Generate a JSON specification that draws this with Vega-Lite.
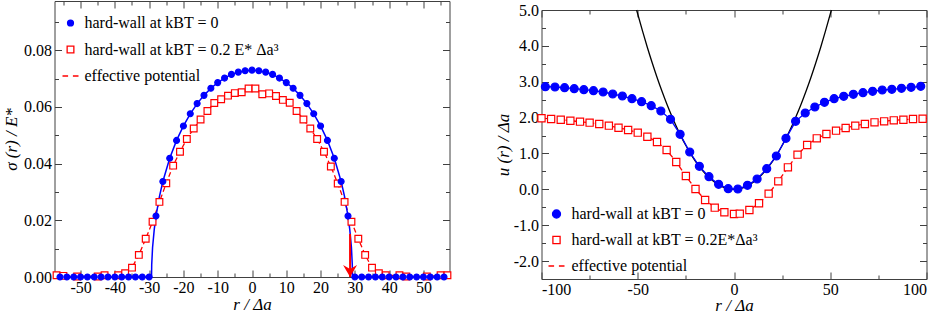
{
  "$schema": "https://vega.github.io/schema/vega-lite/v6.json",
  "background": "white",
  "padding": {"left": 1.5, "top": 0, "right": 0, "bottom": 0},
  "spacing": 39,
  "config": {
    "view": {"stroke": "#404040", "strokeWidth": 1},
    "font": "Liberation Serif",
    "axis": {
      "labelFont": "Liberation Serif", "labelFontSize": 16, "labelColor": "black",
      "titleFont": "Liberation Serif", "titleFontSize": 17, "titleFontWeight": "normal", "titleFontStyle": "italic", "titleColor": "black",
      "domain": false, "grid": false, "tickColor": "#404040", "tickWidth": 1
    },
    "legend": {"labelFont": "Liberation Serif", "labelFontSize": 16, "labelColor": "black"}
  },
  "datasets": {
    "hzL": [
      {"r": -57.6, "v": 0}, {"r": -29.3, "v": 0}, {"r": -29.25, "v": 0.0043}, {"r": -29, "v": 0.0104}, {"r": -28.5, "v": 0.0169}, {"r": -28, "v": 0.0215}, {"r": -27, "v": 0.0284}, {"r": -26, "v": 0.0337}, {"r": -24, "v": 0.0419}, {"r": -22, "v": 0.0482}, {"r": -20, "v": 0.0533}, {"r": -18, "v": 0.0576}, {"r": -16, "v": 0.0612}, {"r": -14, "v": 0.0641}, {"r": -12, "v": 0.0666}, {"r": -10, "v": 0.0686}, {"r": -8, "v": 0.0702}, {"r": -6, "v": 0.0715}, {"r": -4, "v": 0.0723}, {"r": -2, "v": 0.0728}, {"r": 0, "v": 0.073},
      {"r": 2, "v": 0.0728}, {"r": 4, "v": 0.0723}, {"r": 6, "v": 0.0715}, {"r": 8, "v": 0.0702}, {"r": 10, "v": 0.0686}, {"r": 12, "v": 0.0666}, {"r": 14, "v": 0.0641}, {"r": 16, "v": 0.0612}, {"r": 18, "v": 0.0576}, {"r": 20, "v": 0.0533}, {"r": 22, "v": 0.0482}, {"r": 24, "v": 0.0419}, {"r": 26, "v": 0.0337}, {"r": 27, "v": 0.0284}, {"r": 28, "v": 0.0215}, {"r": 28.5, "v": 0.0169}, {"r": 29, "v": 0.0104}, {"r": 29.25, "v": 0.0043}, {"r": 29.3, "v": 0}, {"r": 57.6, "v": 0}
    ],
    "ptL": [
      {"r": -57, "v": 0.0006, "s": "hard-wall at kBT = 0.2 E* Δa³"}, {"r": -55, "v": 0.0004, "s": "hard-wall at kBT = 0.2 E* Δa³"}, {"r": -51, "v": 0.0002, "s": "hard-wall at kBT = 0.2 E* Δa³"}, {"r": -45, "v": 0.0002, "s": "hard-wall at kBT = 0.2 E* Δa³"}, {"r": -43, "v": 0.0006, "s": "hard-wall at kBT = 0.2 E* Δa³"}, {"r": -39, "v": 0.0006, "s": "hard-wall at kBT = 0.2 E* Δa³"}, {"r": -37, "v": 0.0013, "s": "hard-wall at kBT = 0.2 E* Δa³"}, {"r": -35, "v": 0.0033, "s": "hard-wall at kBT = 0.2 E* Δa³"}, {"r": -33, "v": 0.0078, "s": "hard-wall at kBT = 0.2 E* Δa³"}, {"r": -31, "v": 0.0135, "s": "hard-wall at kBT = 0.2 E* Δa³"}, {"r": -29, "v": 0.0195, "s": "hard-wall at kBT = 0.2 E* Δa³"}, {"r": -27, "v": 0.0265, "s": "hard-wall at kBT = 0.2 E* Δa³"}, {"r": -25, "v": 0.0331, "s": "hard-wall at kBT = 0.2 E* Δa³"}, {"r": -23, "v": 0.0393, "s": "hard-wall at kBT = 0.2 E* Δa³"}, {"r": -21, "v": 0.0442, "s": "hard-wall at kBT = 0.2 E* Δa³"}, {"r": -19, "v": 0.0487, "s": "hard-wall at kBT = 0.2 E* Δa³"}, {"r": -17, "v": 0.0524, "s": "hard-wall at kBT = 0.2 E* Δa³"}, {"r": -15, "v": 0.0556, "s": "hard-wall at kBT = 0.2 E* Δa³"}, {"r": -13, "v": 0.0586, "s": "hard-wall at kBT = 0.2 E* Δa³"}, {"r": -11, "v": 0.0614, "s": "hard-wall at kBT = 0.2 E* Δa³"}, {"r": -9, "v": 0.0627, "s": "hard-wall at kBT = 0.2 E* Δa³"}, {"r": -7, "v": 0.064, "s": "hard-wall at kBT = 0.2 E* Δa³"}, {"r": -5, "v": 0.0649, "s": "hard-wall at kBT = 0.2 E* Δa³"}, {"r": -3, "v": 0.0652, "s": "hard-wall at kBT = 0.2 E* Δa³"}, {"r": -1, "v": 0.0665, "s": "hard-wall at kBT = 0.2 E* Δa³"}, {"r": 1, "v": 0.0665, "s": "hard-wall at kBT = 0.2 E* Δa³"}, {"r": 3, "v": 0.0645, "s": "hard-wall at kBT = 0.2 E* Δa³"}, {"r": 5, "v": 0.0648, "s": "hard-wall at kBT = 0.2 E* Δa³"}, {"r": 7, "v": 0.0639, "s": "hard-wall at kBT = 0.2 E* Δa³"}, {"r": 9, "v": 0.0625, "s": "hard-wall at kBT = 0.2 E* Δa³"}, {"r": 11, "v": 0.0615, "s": "hard-wall at kBT = 0.2 E* Δa³"}, {"r": 13, "v": 0.0586, "s": "hard-wall at kBT = 0.2 E* Δa³"}, {"r": 15, "v": 0.0556, "s": "hard-wall at kBT = 0.2 E* Δa³"}, {"r": 17, "v": 0.0524, "s": "hard-wall at kBT = 0.2 E* Δa³"}, {"r": 19, "v": 0.0487, "s": "hard-wall at kBT = 0.2 E* Δa³"}, {"r": 21, "v": 0.0442, "s": "hard-wall at kBT = 0.2 E* Δa³"}, {"r": 23, "v": 0.039, "s": "hard-wall at kBT = 0.2 E* Δa³"}, {"r": 25, "v": 0.033, "s": "hard-wall at kBT = 0.2 E* Δa³"}, {"r": 27, "v": 0.0265, "s": "hard-wall at kBT = 0.2 E* Δa³"}, {"r": 29, "v": 0.0195, "s": "hard-wall at kBT = 0.2 E* Δa³"}, {"r": 31, "v": 0.0135, "s": "hard-wall at kBT = 0.2 E* Δa³"}, {"r": 33, "v": 0.0078, "s": "hard-wall at kBT = 0.2 E* Δa³"}, {"r": 35, "v": 0.0033, "s": "hard-wall at kBT = 0.2 E* Δa³"}, {"r": 37, "v": 0.0013, "s": "hard-wall at kBT = 0.2 E* Δa³"}, {"r": 39, "v": 0.0006, "s": "hard-wall at kBT = 0.2 E* Δa³"}, {"r": 43, "v": 0.0006, "s": "hard-wall at kBT = 0.2 E* Δa³"}, {"r": 45, "v": 0.0002, "s": "hard-wall at kBT = 0.2 E* Δa³"}, {"r": 51, "v": 0.0002, "s": "hard-wall at kBT = 0.2 E* Δa³"}, {"r": 55, "v": 0.0006, "s": "hard-wall at kBT = 0.2 E* Δa³"}, {"r": 57, "v": 0.0006, "s": "hard-wall at kBT = 0.2 E* Δa³"},
      {"r": -56, "v": 0, "s": "hard-wall at kBT = 0"}, {"r": -54, "v": 0, "s": "hard-wall at kBT = 0"}, {"r": -52, "v": 0, "s": "hard-wall at kBT = 0"}, {"r": -50, "v": 0, "s": "hard-wall at kBT = 0"}, {"r": -48, "v": 0, "s": "hard-wall at kBT = 0"}, {"r": -46, "v": 0, "s": "hard-wall at kBT = 0"}, {"r": -44, "v": 0, "s": "hard-wall at kBT = 0"}, {"r": -42, "v": 0, "s": "hard-wall at kBT = 0"}, {"r": -40, "v": 0, "s": "hard-wall at kBT = 0"}, {"r": -38, "v": 0, "s": "hard-wall at kBT = 0"}, {"r": -36, "v": 0, "s": "hard-wall at kBT = 0"}, {"r": -34, "v": 0, "s": "hard-wall at kBT = 0"}, {"r": -32, "v": 0, "s": "hard-wall at kBT = 0"}, {"r": -30, "v": 0, "s": "hard-wall at kBT = 0"}, {"r": -28, "v": 0.0215, "s": "hard-wall at kBT = 0"}, {"r": -26, "v": 0.0337, "s": "hard-wall at kBT = 0"}, {"r": -24, "v": 0.0419, "s": "hard-wall at kBT = 0"}, {"r": -22, "v": 0.0482, "s": "hard-wall at kBT = 0"}, {"r": -20, "v": 0.0533, "s": "hard-wall at kBT = 0"}, {"r": -18, "v": 0.0576, "s": "hard-wall at kBT = 0"}, {"r": -16, "v": 0.0612, "s": "hard-wall at kBT = 0"}, {"r": -14, "v": 0.0641, "s": "hard-wall at kBT = 0"}, {"r": -12, "v": 0.0666, "s": "hard-wall at kBT = 0"}, {"r": -10, "v": 0.0686, "s": "hard-wall at kBT = 0"}, {"r": -8, "v": 0.0702, "s": "hard-wall at kBT = 0"}, {"r": -6, "v": 0.0715, "s": "hard-wall at kBT = 0"}, {"r": -4, "v": 0.0723, "s": "hard-wall at kBT = 0"}, {"r": -2, "v": 0.0728, "s": "hard-wall at kBT = 0"}, {"r": 0, "v": 0.073, "s": "hard-wall at kBT = 0"}, {"r": 2, "v": 0.0728, "s": "hard-wall at kBT = 0"}, {"r": 4, "v": 0.0723, "s": "hard-wall at kBT = 0"}, {"r": 6, "v": 0.0715, "s": "hard-wall at kBT = 0"}, {"r": 8, "v": 0.0702, "s": "hard-wall at kBT = 0"}, {"r": 10, "v": 0.0686, "s": "hard-wall at kBT = 0"}, {"r": 12, "v": 0.0666, "s": "hard-wall at kBT = 0"}, {"r": 14, "v": 0.0641, "s": "hard-wall at kBT = 0"}, {"r": 16, "v": 0.0612, "s": "hard-wall at kBT = 0"}, {"r": 18, "v": 0.0576, "s": "hard-wall at kBT = 0"}, {"r": 20, "v": 0.0533, "s": "hard-wall at kBT = 0"}, {"r": 22, "v": 0.0482, "s": "hard-wall at kBT = 0"}, {"r": 24, "v": 0.0419, "s": "hard-wall at kBT = 0"}, {"r": 26, "v": 0.0337, "s": "hard-wall at kBT = 0"}, {"r": 28, "v": 0.0215, "s": "hard-wall at kBT = 0"}, {"r": 30, "v": 0, "s": "hard-wall at kBT = 0"}, {"r": 32, "v": 0, "s": "hard-wall at kBT = 0"}, {"r": 34, "v": 0, "s": "hard-wall at kBT = 0"}, {"r": 36, "v": 0, "s": "hard-wall at kBT = 0"}, {"r": 38, "v": 0, "s": "hard-wall at kBT = 0"}, {"r": 40, "v": 0, "s": "hard-wall at kBT = 0"}, {"r": 42, "v": 0, "s": "hard-wall at kBT = 0"}, {"r": 44, "v": 0, "s": "hard-wall at kBT = 0"}, {"r": 46, "v": 0, "s": "hard-wall at kBT = 0"}, {"r": 48, "v": 0, "s": "hard-wall at kBT = 0"}, {"r": 50, "v": 0, "s": "hard-wall at kBT = 0"}, {"r": 52, "v": 0, "s": "hard-wall at kBT = 0"}, {"r": 54, "v": 0, "s": "hard-wall at kBT = 0"}, {"r": 56, "v": 0, "s": "hard-wall at kBT = 0"}
    ],
    "arrowL": [{"r": 28.6, "top": 0.0152, "v": 0}],
    "parR": [
      {"r": -50.6, "v": 5.0}, {"r": -47.5, "v": 4.41}, {"r": -45, "v": 3.955}, {"r": -42.5, "v": 3.53}, {"r": -40, "v": 3.125}, {"r": -37.5, "v": 2.746}, {"r": -35, "v": 2.392}, {"r": -32.5, "v": 2.063}, {"r": -30, "v": 1.758}, {"r": -27.5, "v": 1.477}, {"r": -25, "v": 1.221}, {"r": -22.5, "v": 0.989}, {"r": -20, "v": 0.781}, {"r": -17.5, "v": 0.598}, {"r": -15, "v": 0.439}, {"r": -12.5, "v": 0.305}, {"r": -10, "v": 0.195}, {"r": -7.5, "v": 0.11}, {"r": -5, "v": 0.049}, {"r": -2.5, "v": 0.012}, {"r": 0, "v": 0},
      {"r": 2.5, "v": 0.012}, {"r": 5, "v": 0.049}, {"r": 7.5, "v": 0.11}, {"r": 10, "v": 0.195}, {"r": 12.5, "v": 0.305}, {"r": 15, "v": 0.439}, {"r": 17.5, "v": 0.598}, {"r": 20, "v": 0.781}, {"r": 22.5, "v": 0.989}, {"r": 25, "v": 1.221}, {"r": 27.5, "v": 1.477}, {"r": 30, "v": 1.758}, {"r": 32.5, "v": 2.063}, {"r": 35, "v": 2.392}, {"r": 37.5, "v": 2.746}, {"r": 40, "v": 3.125}, {"r": 42.5, "v": 3.53}, {"r": 45, "v": 3.955}, {"r": 47.5, "v": 4.41}, {"r": 50.6, "v": 5.0}
    ],
    "ptR": [
      {"r": -100, "v": 1.98, "s": "hard-wall at kBT = 0.2E*Δa³"}, {"r": -95, "v": 1.961, "s": "hard-wall at kBT = 0.2E*Δa³"}, {"r": -90, "v": 1.942, "s": "hard-wall at kBT = 0.2E*Δa³"}, {"r": -85, "v": 1.914, "s": "hard-wall at kBT = 0.2E*Δa³"}, {"r": -80, "v": 1.887, "s": "hard-wall at kBT = 0.2E*Δa³"}, {"r": -75, "v": 1.859, "s": "hard-wall at kBT = 0.2E*Δa³"}, {"r": -70, "v": 1.822, "s": "hard-wall at kBT = 0.2E*Δa³"}, {"r": -65, "v": 1.775, "s": "hard-wall at kBT = 0.2E*Δa³"}, {"r": -60, "v": 1.719, "s": "hard-wall at kBT = 0.2E*Δa³"}, {"r": -55, "v": 1.654, "s": "hard-wall at kBT = 0.2E*Δa³"}, {"r": -50, "v": 1.58, "s": "hard-wall at kBT = 0.2E*Δa³"}, {"r": -45, "v": 1.468, "s": "hard-wall at kBT = 0.2E*Δa³"}, {"r": -40, "v": 1.32, "s": "hard-wall at kBT = 0.2E*Δa³"}, {"r": -35, "v": 1.097, "s": "hard-wall at kBT = 0.2E*Δa³"}, {"r": -30, "v": 0.762, "s": "hard-wall at kBT = 0.2E*Δa³"}, {"r": -25, "v": 0.372, "s": "hard-wall at kBT = 0.2E*Δa³"}, {"r": -20, "v": 0.009, "s": "hard-wall at kBT = 0.2E*Δa³"}, {"r": -15, "v": -0.297, "s": "hard-wall at kBT = 0.2E*Δa³"}, {"r": -10, "v": -0.511, "s": "hard-wall at kBT = 0.2E*Δa³"}, {"r": -5, "v": -0.641, "s": "hard-wall at kBT = 0.2E*Δa³"}, {"r": 0, "v": -0.688, "s": "hard-wall at kBT = 0.2E*Δa³"}, {"r": 3, "v": -0.678, "s": "hard-wall at kBT = 0.2E*Δa³"}, {"r": 8, "v": -0.576, "s": "hard-wall at kBT = 0.2E*Δa³"}, {"r": 13, "v": -0.39, "s": "hard-wall at kBT = 0.2E*Δa³"}, {"r": 18, "v": -0.121, "s": "hard-wall at kBT = 0.2E*Δa³"}, {"r": 23, "v": 0.223, "s": "hard-wall at kBT = 0.2E*Δa³"}, {"r": 28, "v": 0.613, "s": "hard-wall at kBT = 0.2E*Δa³"}, {"r": 33, "v": 0.967, "s": "hard-wall at kBT = 0.2E*Δa³"}, {"r": 38, "v": 1.236, "s": "hard-wall at kBT = 0.2E*Δa³"}, {"r": 43, "v": 1.422, "s": "hard-wall at kBT = 0.2E*Δa³"}, {"r": 48, "v": 1.543, "s": "hard-wall at kBT = 0.2E*Δa³"}, {"r": 53, "v": 1.636, "s": "hard-wall at kBT = 0.2E*Δa³"}, {"r": 58, "v": 1.71, "s": "hard-wall at kBT = 0.2E*Δa³"}, {"r": 63, "v": 1.775, "s": "hard-wall at kBT = 0.2E*Δa³"}, {"r": 68, "v": 1.822, "s": "hard-wall at kBT = 0.2E*Δa³"}, {"r": 73, "v": 1.868, "s": "hard-wall at kBT = 0.2E*Δa³"}, {"r": 78, "v": 1.896, "s": "hard-wall at kBT = 0.2E*Δa³"}, {"r": 83, "v": 1.924, "s": "hard-wall at kBT = 0.2E*Δa³"}, {"r": 88, "v": 1.942, "s": "hard-wall at kBT = 0.2E*Δa³"}, {"r": 93, "v": 1.961, "s": "hard-wall at kBT = 0.2E*Δa³"}, {"r": 98, "v": 1.97, "s": "hard-wall at kBT = 0.2E*Δa³"},
      {"r": -98, "v": 2.862, "s": "hard-wall at kBT = 0"}, {"r": -93, "v": 2.853, "s": "hard-wall at kBT = 0"}, {"r": -88, "v": 2.835, "s": "hard-wall at kBT = 0"}, {"r": -83, "v": 2.807, "s": "hard-wall at kBT = 0"}, {"r": -78, "v": 2.779, "s": "hard-wall at kBT = 0"}, {"r": -73, "v": 2.751, "s": "hard-wall at kBT = 0"}, {"r": -68, "v": 2.714, "s": "hard-wall at kBT = 0"}, {"r": -63, "v": 2.658, "s": "hard-wall at kBT = 0"}, {"r": -58, "v": 2.602, "s": "hard-wall at kBT = 0"}, {"r": -53, "v": 2.528, "s": "hard-wall at kBT = 0"}, {"r": -48, "v": 2.444, "s": "hard-wall at kBT = 0"}, {"r": -43, "v": 2.333, "s": "hard-wall at kBT = 0"}, {"r": -38, "v": 2.184, "s": "hard-wall at kBT = 0"}, {"r": -33, "v": 1.952, "s": "hard-wall at kBT = 0"}, {"r": -28, "v": 1.533, "s": "hard-wall at kBT = 0"}, {"r": -23, "v": 1.041, "s": "hard-wall at kBT = 0"}, {"r": -18, "v": 0.641, "s": "hard-wall at kBT = 0"}, {"r": -13, "v": 0.353, "s": "hard-wall at kBT = 0"}, {"r": -8, "v": 0.139, "s": "hard-wall at kBT = 0"}, {"r": -3, "v": 0.019, "s": "hard-wall at kBT = 0"}, {"r": 2, "v": 0.009, "s": "hard-wall at kBT = 0"}, {"r": 7, "v": 0.112, "s": "hard-wall at kBT = 0"}, {"r": 12, "v": 0.288, "s": "hard-wall at kBT = 0"}, {"r": 17, "v": 0.576, "s": "hard-wall at kBT = 0"}, {"r": 22, "v": 0.929, "s": "hard-wall at kBT = 0"}, {"r": 27, "v": 1.422, "s": "hard-wall at kBT = 0"}, {"r": 32, "v": 1.896, "s": "hard-wall at kBT = 0"}, {"r": 37, "v": 2.128, "s": "hard-wall at kBT = 0"}, {"r": 42, "v": 2.296, "s": "hard-wall at kBT = 0"}, {"r": 47, "v": 2.426, "s": "hard-wall at kBT = 0"}, {"r": 52, "v": 2.528, "s": "hard-wall at kBT = 0"}, {"r": 57, "v": 2.593, "s": "hard-wall at kBT = 0"}, {"r": 62, "v": 2.649, "s": "hard-wall at kBT = 0"}, {"r": 67, "v": 2.695, "s": "hard-wall at kBT = 0"}, {"r": 72, "v": 2.732, "s": "hard-wall at kBT = 0"}, {"r": 77, "v": 2.77, "s": "hard-wall at kBT = 0"}, {"r": 82, "v": 2.788, "s": "hard-wall at kBT = 0"}, {"r": 87, "v": 2.816, "s": "hard-wall at kBT = 0"}, {"r": 92, "v": 2.844, "s": "hard-wall at kBT = 0"}, {"r": 97, "v": 2.872, "s": "hard-wall at kBT = 0"}
    ]
  },
  "resolve": {"scale": {"x": "independent", "y": "independent", "shape": "independent", "stroke": "independent", "fill": "independent"}, "legend": {"shape": "independent", "stroke": "independent", "fill": "independent"}},
  "hconcat": [
    {
      "width": 395, "height": 276,
      "resolve": {"axis": {"x": "independent", "y": "independent"}},
      "layer": [
        {
          "data": {"name": "ptL"},
          "transform": [{"filter": "datum.s === 'hard-wall at kBT = 0.2 E* Δa³'"}],
          "mark": {"type": "line", "color": "#ff0000", "strokeDash": [5, 3], "strokeWidth": 1.3},
          "encoding": {
            "x": {"field": "r", "type": "quantitative", "scale": {"domain": [-57.6, 57.6], "nice": false, "zero": false},
                  "axis": {"orient": "bottom", "values": [-50, -40, -30, -20, -10, 0, 10, 20, 30, 40, 50], "tickSize": -7, "labelPadding": 9, "title": "r / Δa", "titleY": 27.5, "titleBaseline": "middle", "labelExpr": "replace(datum.label, '\u2212', '-')"}},
            "y": {"field": "v", "type": "quantitative", "scale": {"domain": [0, 0.0974], "nice": false, "zero": false},
                  "axis": {"orient": "left", "values": [0, 0.02, 0.04, 0.06, 0.08], "format": ".2f", "tickSize": -7, "labelPadding": 10, "title": "σ (r) / E*", "titleX": -43, "titleY": 138, "titleBaseline": "middle"}}
          }
        },
        {
          "data": {"name": "hzL"},
          "mark": {"type": "line", "color": "#0000ff", "strokeWidth": 1.5},
          "encoding": {
            "x": {"field": "r", "type": "quantitative", "axis": {"orient": "bottom", "values": [-55, -45, -35, -25, -15, -5, 5, 15, 25, 35, 45, 55], "tickSize": -4, "labels": false, "title": null}},
            "y": {"field": "v", "type": "quantitative", "axis": {"orient": "left", "values": [0.01, 0.03, 0.05, 0.07, 0.09], "tickSize": -4, "labels": false, "title": null}}
          }
        },
        {
          "data": {"name": "ptL"},
          "mark": {"type": "point", "filled": false, "strokeWidth": 1.2, "opacity": 1, "size": 256},
          "encoding": {
            "x": {"field": "r", "type": "quantitative", "axis": {"orient": "top", "values": [-50, -40, -30, -20, -10, 0, 10, 20, 30, 40, 50], "tickSize": -7, "labels": false, "title": null}},
            "y": {"field": "v", "type": "quantitative", "axis": {"orient": "right", "values": [0, 0.02, 0.04, 0.06, 0.08], "tickSize": -7, "labels": false, "title": null}},
            "shape": {"field": "s", "type": "nominal",
              "scale": {"domain": ["hard-wall at kBT = 0", "hard-wall at kBT = 0.2 E* Δa³", "effective potential"], "range": ["M-0.37,0A0.37,0.37 0 1,0 0.37,0A0.37,0.37 0 1,0 -0.37,0Z", "M-0.42,-0.42H0.42V0.42H-0.42Z", "M-1,0H-0.3M0.3,0H1"]},
              "legend": {"title": null, "orient": "none", "legendX": 7, "legendY": 13, "padding": 0, "rowPadding": 9.5, "labelOffset": 5, "symbolStrokeWidth": 1.3, "symbolSize": 256, "labelLimit": 400}},
            "stroke": {"field": "s", "type": "nominal", "scale": {"domain": ["hard-wall at kBT = 0", "hard-wall at kBT = 0.2 E* Δa³", "effective potential"], "range": ["#0000ff", "#ff0000", "#ff0000"]}},
            "fill": {"field": "s", "type": "nominal", "scale": {"domain": ["hard-wall at kBT = 0", "hard-wall at kBT = 0.2 E* Δa³", "effective potential"], "range": ["#0000ff", "#ffffff", "transparent"]}}
          }
        },
        {
          "data": {"name": "arrowL"},
          "mark": {"type": "rule", "color": "#ff0000", "strokeWidth": 2},
          "encoding": {
            "x": {"field": "r", "type": "quantitative", "axis": {"orient": "top", "values": [-55, -45, -35, -25, -15, -5, 5, 15, 25, 35, 45, 55], "tickSize": -4, "labels": false, "title": null}},
            "y": {"field": "top", "type": "quantitative", "axis": {"orient": "right", "values": [0.01, 0.03, 0.05, 0.07, 0.09], "tickSize": -4, "labels": false, "title": null}},
            "y2": {"field": "v"}
          }
        },
        {
          "data": {"name": "arrowL"},
          "mark": {"type": "point", "shape": "M0,0L-1,-1.7L0,-1.15L1,-1.7Z", "filled": true, "color": "#ff0000", "size": 196, "opacity": 1},
          "encoding": {
            "x": {"field": "r", "type": "quantitative", "axis": null},
            "y": {"field": "v", "type": "quantitative", "axis": null}
          }
        }
      ]
    },
    {
      "spacing": -1,
      "vconcat": [
        {
          "width": 385, "height": 1,
          "view": {"stroke": null},
          "data": {"values": []},
          "mark": {"type": "point", "opacity": 0, "size": 0},
          "encoding": {}
        },
        {
          "width": 385, "height": 269,
          "resolve": {"axis": {"x": "independent", "y": "independent"}},
          "layer": [
            {
              "data": {"name": "parR"},
              "mark": {"type": "line", "color": "#000000", "strokeWidth": 1.3, "interpolate": "monotone"},
              "encoding": {
                "x": {"field": "r", "type": "quantitative", "scale": {"domain": [-100, 100], "nice": false, "zero": false},
                      "axis": {"orient": "bottom", "values": [-100, -50, 0, 50, 100], "tickSize": -7, "labelPadding": 9, "title": "r / Δa", "titleY": 26, "titleBaseline": "middle", "labelExpr": "replace(datum.label, '\u2212', '-')"}},
                "y": {"field": "v", "type": "quantitative", "scale": {"domain": [-2.5, 5], "nice": false, "zero": false},
                      "axis": {"orient": "left", "values": [-2, -1, 0, 1, 2, 3, 4, 5], "format": ".1f", "tickSize": -7, "labelPadding": 10, "title": "u (r) / Δa", "titleX": -38, "titleY": 134.5, "titleBaseline": "middle", "labelExpr": "replace(datum.label, '\u2212', '-')"}}
              }
            },
            {
              "data": {"name": "ptR"},
              "transform": [{"filter": "datum.s === 'hard-wall at kBT = 0'"}],
              "mark": {"type": "line", "color": "#0000ff", "strokeWidth": 1.3},
              "encoding": {
                "x": {"field": "r", "type": "quantitative", "axis": {"orient": "bottom", "values": [-75, -25, 25, 75], "tickSize": -4, "labels": false, "title": null}},
                "y": {"field": "v", "type": "quantitative", "axis": {"orient": "left", "values": [-2.5, -1.5, -0.5, 0.5, 1.5, 2.5, 3.5, 4.5], "tickSize": -4, "labels": false, "title": null}}
              }
            },
            {
              "data": {"name": "ptR"},
              "transform": [{"filter": "datum.s === 'hard-wall at kBT = 0.2E*Δa³'"}],
              "mark": {"type": "line", "color": "#ff0000", "strokeDash": [5, 3], "strokeWidth": 1.3},
              "encoding": {
                "x": {"field": "r", "type": "quantitative", "axis": {"orient": "top", "values": [-100, -50, 0, 50, 100], "tickSize": -7, "labels": false, "title": null}},
                "y": {"field": "v", "type": "quantitative", "axis": {"orient": "right", "values": [-2, -1, 0, 1, 2, 3, 4, 5], "tickSize": -7, "labels": false, "title": null}}
              }
            },
            {
              "data": {"name": "ptR"},
              "mark": {"type": "point", "filled": false, "strokeWidth": 1.2, "opacity": 1, "size": 256},
              "encoding": {
                "x": {"field": "r", "type": "quantitative", "axis": {"orient": "top", "values": [-75, -25, 25, 75], "tickSize": -4, "labels": false, "title": null}},
                "y": {"field": "v", "type": "quantitative", "axis": {"orient": "right", "values": [-2.5, -1.5, -0.5, 0.5, 1.5, 2.5, 3.5, 4.5], "tickSize": -4, "labels": false, "title": null}},
                "shape": {"field": "s", "type": "nominal",
                  "scale": {"domain": ["hard-wall at kBT = 0", "hard-wall at kBT = 0.2E*Δa³", "effective potential"], "range": ["M-0.5,0A0.5,0.5 0 1,0 0.5,0A0.5,0.5 0 1,0 -0.5,0Z", "M-0.45,-0.45H0.45V0.45H-0.45Z", "M-1,0H-0.3M0.3,0H1"]},
                  "legend": {"title": null, "orient": "none", "legendX": 6, "legendY": 204, "padding": 0, "rowPadding": 9, "labelOffset": 6, "symbolStrokeWidth": 1.3, "symbolSize": 256, "labelLimit": 400}},
                "stroke": {"field": "s", "type": "nominal", "scale": {"domain": ["hard-wall at kBT = 0", "hard-wall at kBT = 0.2E*Δa³", "effective potential"], "range": ["#0000ff", "#ff0000", "#ff0000"]}},
                "fill": {"field": "s", "type": "nominal", "scale": {"domain": ["hard-wall at kBT = 0", "hard-wall at kBT = 0.2E*Δa³", "effective potential"], "range": ["#0000ff", "#ffffff", "transparent"]}}
              }
            }
          ]
        }
      ]
    }
  ]
}
